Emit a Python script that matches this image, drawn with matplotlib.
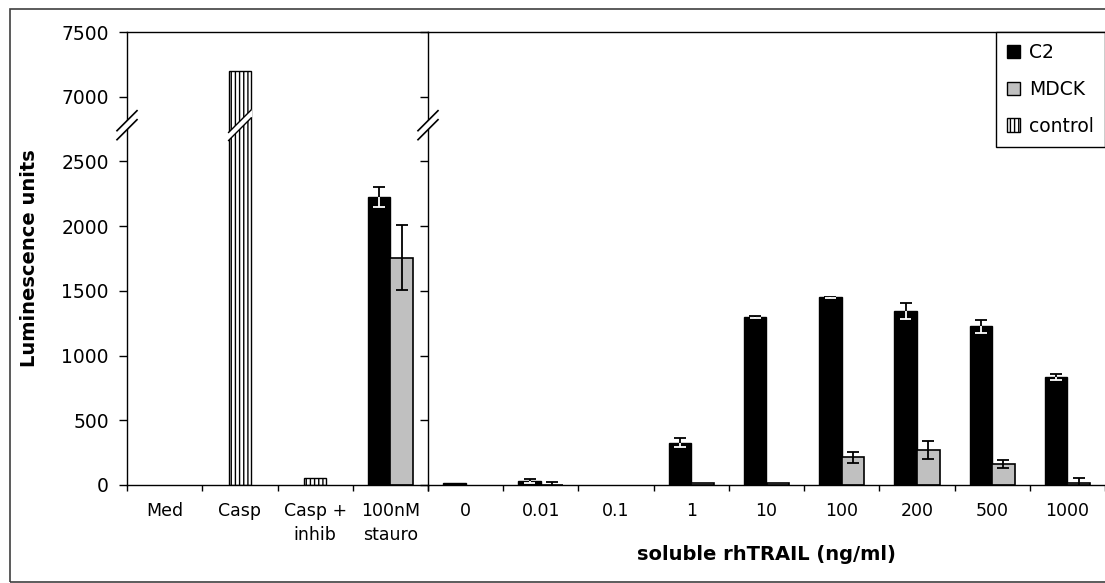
import numpy as np
import matplotlib
matplotlib.use("Agg")
import matplotlib.pyplot as plt
from matplotlib.patches import Patch, Polygon, Rectangle
from matplotlib.lines import Line2D
from matplotlib.transforms import IdentityTransform

# ---------------- data ----------------
categories = ['Med', 'Casp', 'Casp +\ninhib', '100nM\nstauro',
              '0', '0.01', '0.1', '1', '10', '100', '200', '500', '1000']
c2_values = [0, 0, 0, 2225, 12, 28, 0, 328, 1300, 1450, 1346, 1225, 833]
c2_errors = [0, 0, 0, 75, 0, 15, 0, 35, 8, 6, 60, 50, 25]
mdck_values = [0, 0, 0, 1756, 0, 3, 0, 18, 12, 213, 269, 161, 13]
mdck_errors = [0, 0, 0, 250, 0, 20, 0, 0, 0, 42, 70, 30, 40]
control_values = [0, 7200, 55, 0, 0, 0, 0, 0, 0, 0, 0, 0, 0]
n_left = 4  # categories left of the separator

ytick_vals = [0, 500, 1000, 1500, 2000, 2500, 7000, 7500]
ytick_labels = ['0', '500', '1000', '1500', '2000', '2500', '7000', '7500']
BREAK_LOW, BREAK_HIGH = 2500, 7000
SHIFT = BREAK_HIGH - BREAK_LOW - 500  # compress gap to one 500-step


def tr(v):
    v = np.asarray(v, dtype=float)
    return np.where(v > BREAK_LOW, v - SHIFT, v)


plt.rcParams['font.family'] = ['DejaVu Sans']
plt.rcParams['hatch.linewidth'] = 1.0

W, H = 1105, 583
fig = plt.figure(figsize=(W / 100, H / 100), dpi=100)

x_left_px, x_sep_px, x_right_px = 127, 428, 1105
y_bot_px, y_top_px = 485, 32
bottom = (H - y_bot_px) / H
height = (y_bot_px - y_top_px) / H

axL = fig.add_axes([x_left_px / W, bottom, (x_sep_px - x_left_px) / W, height])
axR = fig.add_axes([x_sep_px / W, bottom, (x_right_px - x_sep_px) / W, height])

bw = 0.3
x = np.arange(len(categories))
c2 = np.array(c2_values, float)
c2e = np.array(c2_errors, float)
md = np.array(mdck_values, float)
mde = np.array(mdck_errors, float)
ctl = np.array(control_values, float)

for ax, idx in ((axL, np.arange(0, n_left)), (axR, np.arange(n_left, len(categories)))):
    xi = x[idx]
    has_ctl = ctl[idx] > 0
    pair = ~has_ctl
    # control bars (centred)
    ax.bar(xi[has_ctl], tr(ctl[idx][has_ctl]), width=bw, color='white',
           edgecolor='black', hatch='||||', linewidth=1.0, zorder=2)
    # C2 and MDCK bars (side by side)
    xc2 = xi[pair] - bw / 2
    xmd = xi[pair] + bw / 2
    vc2 = c2[idx][pair]
    vmd = md[idx][pair]
    ax.bar(xc2[vc2 > 0], vc2[vc2 > 0], width=bw, color='black', edgecolor='black',
           linewidth=1.0, zorder=2)
    ax.bar(xmd[vmd > 0], vmd[vmd > 0], width=bw, color='#c0c0c0', edgecolor='black',
           linewidth=1.2, zorder=2)
    # error bars
    ec2 = c2e[idx][pair]
    m = ec2 > 0
    ax.errorbar(xc2[m], vc2[m], yerr=ec2[m], fmt='none',
                ecolor='black', elinewidth=1.3, capsize=4.3, capthick=1.3, zorder=3)
    low = vc2[m] - ec2[m]
    ax.vlines(xc2[m], low, vc2[m], colors='white', linewidth=1.3, zorder=4)
    ax.hlines(low, xc2[m] - 0.075, xc2[m] + 0.075, colors='white', linewidth=1.3, zorder=4)
    emd = mde[idx][pair]
    m2 = emd > 0
    ax.errorbar(xmd[m2], vmd[m2], yerr=emd[m2], fmt='none',
                ecolor='black', elinewidth=1.3, capsize=4.3, capthick=1.3, zorder=3)

    ax.set_ylim(0, tr(7500))
    ax.set_xlim(idx[0] - 0.5, idx[-1] + 0.5)
    ax.set_xticks(xi)
    ax.set_xticklabels([categories[i] for i in idx], fontsize=12.5, linespacing=1.45)
    ax.set_xticks(np.arange(idx[0] - 0.5, idx[-1] + 0.6, 1.0), minor=True)
    ax.tick_params(axis='x', which='major', length=0, pad=12)
    ax.tick_params(axis='x', which='minor', length=4.5, width=1.0, direction='out')
    ax.set_yticks(tr(ytick_vals))
    ax.tick_params(axis='y', length=6, width=1.0, direction='out', labelsize=13.5, pad=7)
    for s in ('left', 'top', 'bottom'):
        ax.spines[s].set_linewidth(1.0)
        ax.spines[s].set_color('black')
    ax.spines['right'].set_visible(False)
    ax.set_facecolor('none')

axL.set_yticklabels(ytick_labels)
axR.set_yticklabels([])

# ---------- broken axis decorations ----------
ybreak = 2780
ident = IdentityTransform()
dy, dx = 4.5, 10

for ax, xs in ((axL, -0.5), (axR, n_left - 0.5)):
    cx, cy = ax.transData.transform((xs, ybreak))
    gap = Polygon([(cx - 3, cy - dy - 3), (cx + 3, cy - dy + 3),
                   (cx + 3, cy + dy + 3), (cx - 3, cy + dy - 3)],
                  closed=True, facecolor='white', edgecolor='none',
                  transform=ident, zorder=10)
    fig.add_artist(gap)
    for s in (-dy, dy):
        fig.add_artist(Line2D([cx - dx, cx + dx], [cy + s - dx, cy + s + dx],
                              color='black', linewidth=1.2, transform=ident, zorder=11))

# break across the tall control bar
for i in range(len(categories)):
    if ctl[i] > BREAK_LOW:
        ax = axL if i < n_left else axR
        x0, cy = ax.transData.transform((x[i] - bw / 2, ybreak))
        x1, _ = ax.transData.transform((x[i] + bw / 2, ybreak))
        cx = (x0 + x1) / 2
        g = 4
        poly = Polygon([(x0 - 1, cy - g + (x0 - 1 - cx)), (x1 + 1, cy - g + (x1 + 1 - cx)),
                        (x1 + 1, cy + g + (x1 + 1 - cx)), (x0 - 1, cy + g + (x0 - 1 - cx))],
                       closed=True, facecolor='white', edgecolor='none',
                       transform=ident, zorder=10)
        fig.add_artist(poly)
        for s in (-g, g):
            fig.add_artist(Line2D([x0, x1], [cy + s + (x0 - cx), cy + s + (x1 - cx)],
                                  color='black', linewidth=1.0, transform=ident, zorder=11))

# ---------- labels ----------
fig.text(30 / W, (H - 258) / H, 'Luminescence units', rotation=90, ha='center',
         va='center', fontsize=14, fontweight='bold')
fig.text(766 / W, (H - 554) / H, 'soluble rhTRAIL (ng/ml)', ha='center', va='center',
         fontsize=14, fontweight='bold')

# ---------- legend ----------
handles = [Patch(facecolor='black', edgecolor='black', label='C2'),
           Patch(facecolor='#c0c0c0', edgecolor='black', label='MDCK'),
           Patch(facecolor='white', edgecolor='black', hatch='||||', label='control')]
leg = fig.legend(handles=handles, loc='upper left',
                 bbox_to_anchor=(996 / W, (H - y_top_px) / H),
                 bbox_transform=fig.transFigure, borderaxespad=0, fontsize=13.5,
                 frameon=True, fancybox=False, framealpha=1, edgecolor='black',
                 handlelength=0.7, handleheight=0.7, handletextpad=0.45,
                 labelspacing=0.94, borderpad=0.6)
leg.get_frame().set_linewidth(1.0)

# ---------- outer border ----------
fig.add_artist(Rectangle((9.5 / W, 1.0 / H), (W + 20) / W, (H - 8.5 - 1.0) / H,
                         transform=fig.transFigure, facecolor='none',
                         edgecolor='#404040', linewidth=1.2, zorder=0))

fig.savefig('out.png', dpi=100, facecolor='white')
